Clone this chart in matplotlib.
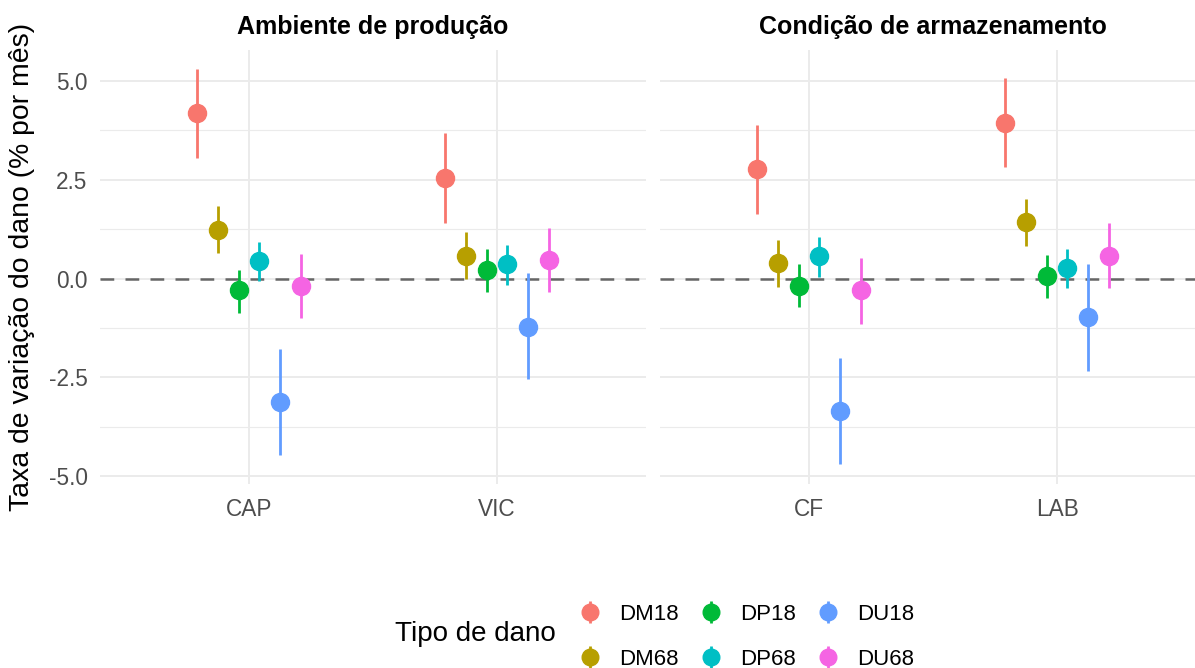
import matplotlib
matplotlib.use("Agg")
import matplotlib.pyplot as plt
import numpy as np

plt.rcParams['font.family'] = ['Liberation Sans', 'DejaVu Sans']

damage_types = ['DM18', 'DM68', 'DP18', 'DP68', 'DU18', 'DU68']
colors = ['#F8766D', '#B79F00', '#00BA38', '#00BFC4', '#619CFF', '#F564E3']

facet_titles = ['Ambiente de produção', 'Condição de armazenamento']
facet_levels = [['CAP', 'VIC'], ['CF', 'LAB']]

# estimates per level, in damage_types order
est = {
    'CAP': [4.19, 1.23, -0.30, 0.45, -3.13, -0.18],
    'VIC': [2.55, 0.58, 0.23, 0.37, -1.22, 0.47],
    'CF':  [2.78, 0.40, -0.18, 0.56, -3.36, -0.30],
    'LAB': [3.95, 1.43, 0.07, 0.26, -0.98, 0.58],
}
lower = {
    'CAP': [3.05, 0.66, -0.86, -0.05, -4.47, -1.01],
    'VIC': [1.41, 0.00, -0.33, -0.15, -2.55, -0.35],
    'CF':  [1.64, -0.20, -0.73, 0.05, -4.70, -1.14],
    'LAB': [2.83, 0.82, -0.48, -0.25, -2.34, -0.25],
}
upper = {
    'CAP': [5.30, 1.83, 0.23, 0.93, -1.77, 0.63],
    'VIC': [3.69, 1.17, 0.76, 0.86, 0.13, 1.29],
    'CF':  [3.90, 0.98, 0.38, 1.06, -2.01, 0.53],
    'LAB': [5.09, 2.02, 0.61, 0.74, 0.36, 1.41],
}

W, H = 1195, 668
fig = plt.figure(figsize=(W / 100, H / 100), dpi=100)

all_lo = min(min(v) for v in lower.values())
all_hi = max(max(v) for v in upper.values())
rng = all_hi - all_lo
ylim = (all_lo - 0.05 * rng, all_hi + 0.05 * rng)

panel_top, panel_bot = 49.5, 484
panel_w = 546
lefts = [100, 660]

dodge = 0.5
n = len(damage_types)
offsets = [(-dodge / 2 + dodge / n * (i + 0.5)) for i in range(n)]

handles = []
for p, (title, levels) in enumerate(zip(facet_titles, facet_levels)):
    ax = fig.add_axes([lefts[p] / W, 1 - panel_bot / H, panel_w / W, (panel_bot - panel_top) / H])
    ax.set_xlim(-0.6, len(levels) - 1 + 0.6)
    ax.set_ylim(*ylim)
    for s in ax.spines.values():
        s.set_visible(False)
    ax.set_xticks(range(len(levels)))
    ax.set_xticklabels(levels)
    ax.set_yticks([-5, -2.5, 0, 2.5, 5])
    ax.set_yticks([-3.75, -1.25, 1.25, 3.75], minor=True)
    ax.grid(True, which='major', color='#EBEBEB', linewidth=1.4, zorder=0)
    ax.grid(True, which='minor', axis='y', color='#EBEBEB', linewidth=0.8, zorder=0)
    ax.set_axisbelow(True)
    ax.tick_params(axis='both', which='both', length=0, labelsize=16.3, labelcolor='#4D4D4D')
    ax.tick_params(axis='x', pad=10)
    ax.tick_params(axis='y', pad=9)
    if p == 0:
        ax.set_yticklabels(['-5.0', '-2.5', '0.0', '2.5', '5.0'])
        ax.set_ylabel('Taxa de variação do dano (% por mês)', fontsize=20.4, labelpad=10)
    else:
        ax.set_yticklabels([])
    ax.axhline(0, color='#666666', linestyle=(0, (5.5, 4.5)), linewidth=1.8, zorder=1)
    for i, dt in enumerate(damage_types):
        xs = np.arange(len(levels)) + offsets[i]
        ys = np.array([est[l][i] for l in levels])
        lo = np.array([lower[l][i] for l in levels])
        hi = np.array([upper[l][i] for l in levels])
        h = ax.errorbar(xs, ys, yerr=[ys - lo, hi - ys], fmt='o', color=colors[i],
                        markersize=13, elinewidth=2.0, capsize=0, zorder=3, clip_on=False)
        if p == 0:
            handles.append(h)
    ax.set_title(title, fontsize=18, fontweight='bold', pad=11)

fig.text(395 / W, 1 - 634 / H, 'Tipo de dano', fontsize=20, va='center', ha='left')
leg = fig.legend(handles, damage_types, ncol=3, loc='center left',
                 bbox_to_anchor=(566 / W, 1 - 637 / H), frameon=False,
                 fontsize=16, handlelength=1.2, handletextpad=0.7, markerscale=0.92,
                 columnspacing=0.85, labelspacing=1.1, borderpad=0)

fig.savefig('out.png', dpi=100)
